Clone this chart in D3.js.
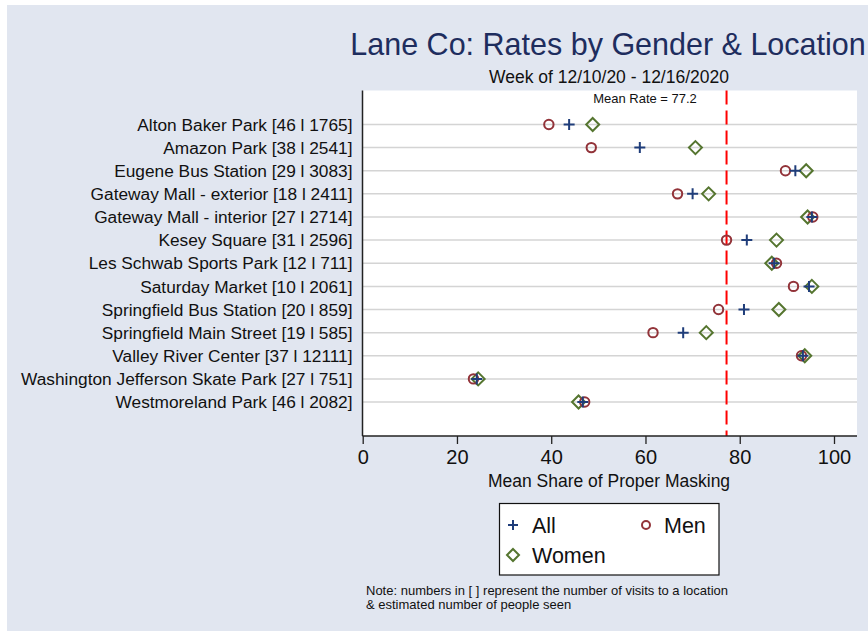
<!DOCTYPE html>
<html>
<head>
<meta charset="utf-8">
<script src="https://cdn.jsdelivr.net/npm/d3@7"></script>
<style>
  html, body { margin: 0; padding: 0; background: #fff; }
  svg { display: block; font-family: "Liberation Sans", Arial, Helvetica, sans-serif; }
</style>
</head>
<body>
<div id="chart"></div>
<script>
// locations with [visits | people seen]
const locations = [
  "Alton Baker Park [46 l 1765]",
  "Amazon Park [38 l 2541]",
  "Eugene Bus Station [29 l 3083]",
  "Gateway Mall - exterior [18 l 2411]",
  "Gateway Mall - interior [27 l 2714]",
  "Kesey Square [31 l 2596]",
  "Les Schwab Sports Park [12 l 711]",
  "Saturday Market [10 l 2061]",
  "Springfield Bus Station [20 l 859]",
  "Springfield Main Street [19 l 585]",
  "Valley River Center [37 l 12111]",
  "Washington Jefferson Skate Park [27 l 751]",
  "Westmoreland Park [46 l 2082]"
]
const allRates   = [43.8, 58.8, 91.8, 70.0, 95.3, 81.5, 87.3, 94.7, 80.9, 68.0, 93.4, 24.2, 46.7]
const menRates   = [39.5, 48.5, 89.7, 66.8, 95.5, 77.2, 87.8, 91.4, 75.5, 61.6, 93.1, 23.5, 47.1]
const womenRates = [48.8, 70.6, 94.1, 73.4, 94.4, 87.8, 86.8, 95.3, 88.3, 72.9, 93.8, 24.5, 45.8]
const meanRate = 77.2
const xTicks = [0, 20, 40, 60, 80, 100]

const width = 868
const height = 632
const plotLeft = 362.5, plotRight = 857, plotTop = 90.5, plotBottom = 436

const colors = { all: "#1f3d7a", men: "#923339", women: "#55752f" }

const svg = d3.select("#chart").append("svg")
  .attr("width", width)
  .attr("height", height)

// graph region background
svg.append("rect")
  .attr("x", 7).attr("y", 5)
  .attr("width", width - 7).attr("height", 626)
  .attr("fill", "#e1e6f0")

// plot region
svg.append("rect")
  .attr("x", plotLeft).attr("y", plotTop)
  .attr("width", plotRight - plotLeft).attr("height", plotBottom - plotTop)
  .attr("fill", "#fff")

const x = d3.scaleLinear().domain([0, 100]).range([362.7, 834])
const y = d3.scalePoint().domain(locations).range([plotTop, plotBottom]).padding(1.47)

// gridlines
svg.append("g").selectAll("line")
  .data(locations)
  .join("line")
  .attr("x1", plotLeft).attr("x2", plotRight)
  .attr("y1", d => y(d)).attr("y2", d => y(d))
  .attr("stroke", "#d4d4d4")
  .attr("stroke-width", 1.5)

// mean line
svg.append("line")
  .attr("x1", x(meanRate)).attr("x2", x(meanRate))
  .attr("y1", plotTop).attr("y2", plotBottom)
  .attr("stroke", "#ff0000")
  .attr("stroke-width", 2)
  .attr("stroke-dasharray", "14,6")

svg.append("text")
  .attr("x", 645).attr("y", 103)
  .attr("text-anchor", "middle")
  .style("font-size", "13px")
  .attr("fill", "#111")
  .text("Mean Rate = " + meanRate)

// axes
const xAxis = svg.append("g")
  .attr("transform", `translate(0,${plotBottom})`)
  .call(d3.axisBottom(x).tickValues(xTicks).tickSize(8).tickPadding(6))
xAxis.select(".domain").remove()
xAxis.selectAll(".tick line").attr("stroke", "#222").attr("stroke-width", 1.3)
xAxis.selectAll(".tick text")
  .style("font-size", "20px")
  .style("font-family", '"Liberation Sans", Arial, sans-serif')
  .attr("fill", "#111")

svg.append("line")
  .attr("x1", plotLeft).attr("x2", plotRight)
  .attr("y1", plotBottom).attr("y2", plotBottom)
  .attr("stroke", "#222").attr("stroke-width", 1.5)
svg.append("line")
  .attr("x1", plotLeft).attr("x2", plotLeft)
  .attr("y1", plotTop).attr("y2", plotBottom)
  .attr("stroke", "#222").attr("stroke-width", 1.5)

// y labels
svg.append("g").selectAll("text")
  .data(locations)
  .join("text")
  .attr("x", 352.5)
  .attr("y", d => y(d))
  .attr("dy", "0.36em")
  .attr("text-anchor", "end")
  .style("font-size", "17.3px")
  .attr("fill", "#111")
  .text(d => d)

svg.append("text")
  .attr("x", 609).attr("y", 487)
  .attr("text-anchor", "middle")
  .style("font-size", "17.5px")
  .attr("fill", "#111")
  .text("Mean Share of Proper Masking")

// titles
svg.append("text")
  .attr("x", 608).attr("y", 55)
  .attr("text-anchor", "middle")
  .style("font-size", "30.5px")
  .attr("fill", "#1e2d5e")
  .text("Lane Co: Rates by Gender & Location")

svg.append("text")
  .attr("x", 609).attr("y", 83)
  .attr("text-anchor", "middle")
  .style("font-size", "17.5px")
  .attr("fill", "#111")
  .text("Week of 12/10/20 - 12/16/2020")

// marker helpers
function plusPath(cx, cy, s) {
  return `M${cx - s},${cy}H${cx + s}M${cx},${cy - s}V${cy + s}`
}
function diamondPath(cx, cy, s) {
  return `M${cx},${cy - s}L${cx + s},${cy}L${cx},${cy + s}L${cx - s},${cy}Z`
}

const rows = locations.map((loc, i) => ({ loc, all: allRates[i], men: menRates[i], women: womenRates[i] }))

svg.append("g").selectAll("path")
  .data(rows)
  .join("path")
  .attr("d", d => diamondPath(x(d.women), y(d.loc), 6.5))
  .attr("fill", "none")
  .attr("stroke", colors.women)
  .attr("stroke-width", 2)

svg.append("g").selectAll("circle")
  .data(rows)
  .join("circle")
  .attr("cx", d => x(d.men))
  .attr("cy", d => y(d.loc))
  .attr("r", 4.7)
  .attr("fill", "none")
  .attr("stroke", colors.men)
  .attr("stroke-width", 2)

svg.append("g").selectAll("path")
  .data(rows)
  .join("path")
  .attr("d", d => plusPath(x(d.all), y(d.loc), 5.5))
  .attr("stroke", colors.all)
  .attr("stroke-width", 2)

// legend
const legend = svg.append("g")
legend.append("rect")
  .attr("x", 499.5).attr("y", 503.5)
  .attr("width", 219.5).attr("height", 71.5)
  .attr("fill", "#fff")
  .attr("stroke", "#111")
  .attr("stroke-width", 1.2)

legend.append("path")
  .attr("d", plusPath(513, 525, 5))
  .attr("stroke", colors.all).attr("stroke-width", 2)
legend.append("circle")
  .attr("cx", 646).attr("cy", 525).attr("r", 4)
  .attr("fill", "none").attr("stroke", colors.men).attr("stroke-width", 2)
legend.append("path")
  .attr("d", diamondPath(513, 555, 6))
  .attr("fill", "none").attr("stroke", colors.women).attr("stroke-width", 2)

const legendItems = [
  { label: "All", x: 532, y: 533 },
  { label: "Men", x: 664, y: 533 },
  { label: "Women", x: 532, y: 563 }
]
legend.selectAll("text.lbl")
  .data(legendItems)
  .join("text")
  .attr("class", "lbl")
  .attr("x", d => d.x).attr("y", d => d.y)
  .style("font-size", "21.5px")
  .attr("fill", "#111")
  .text(d => d.label)

// note
const note = ["Note: numbers in [ ] represent the number of visits to a location",
              "& estimated number of people seen"]
svg.append("g").selectAll("text")
  .data(note)
  .join("text")
  .attr("x", 366)
  .attr("y", (d, i) => 595 + i * 14)
  .style("font-size", "13px")
  .attr("fill", "#111")
  .text(d => d)
</script>
</body>
</html>
